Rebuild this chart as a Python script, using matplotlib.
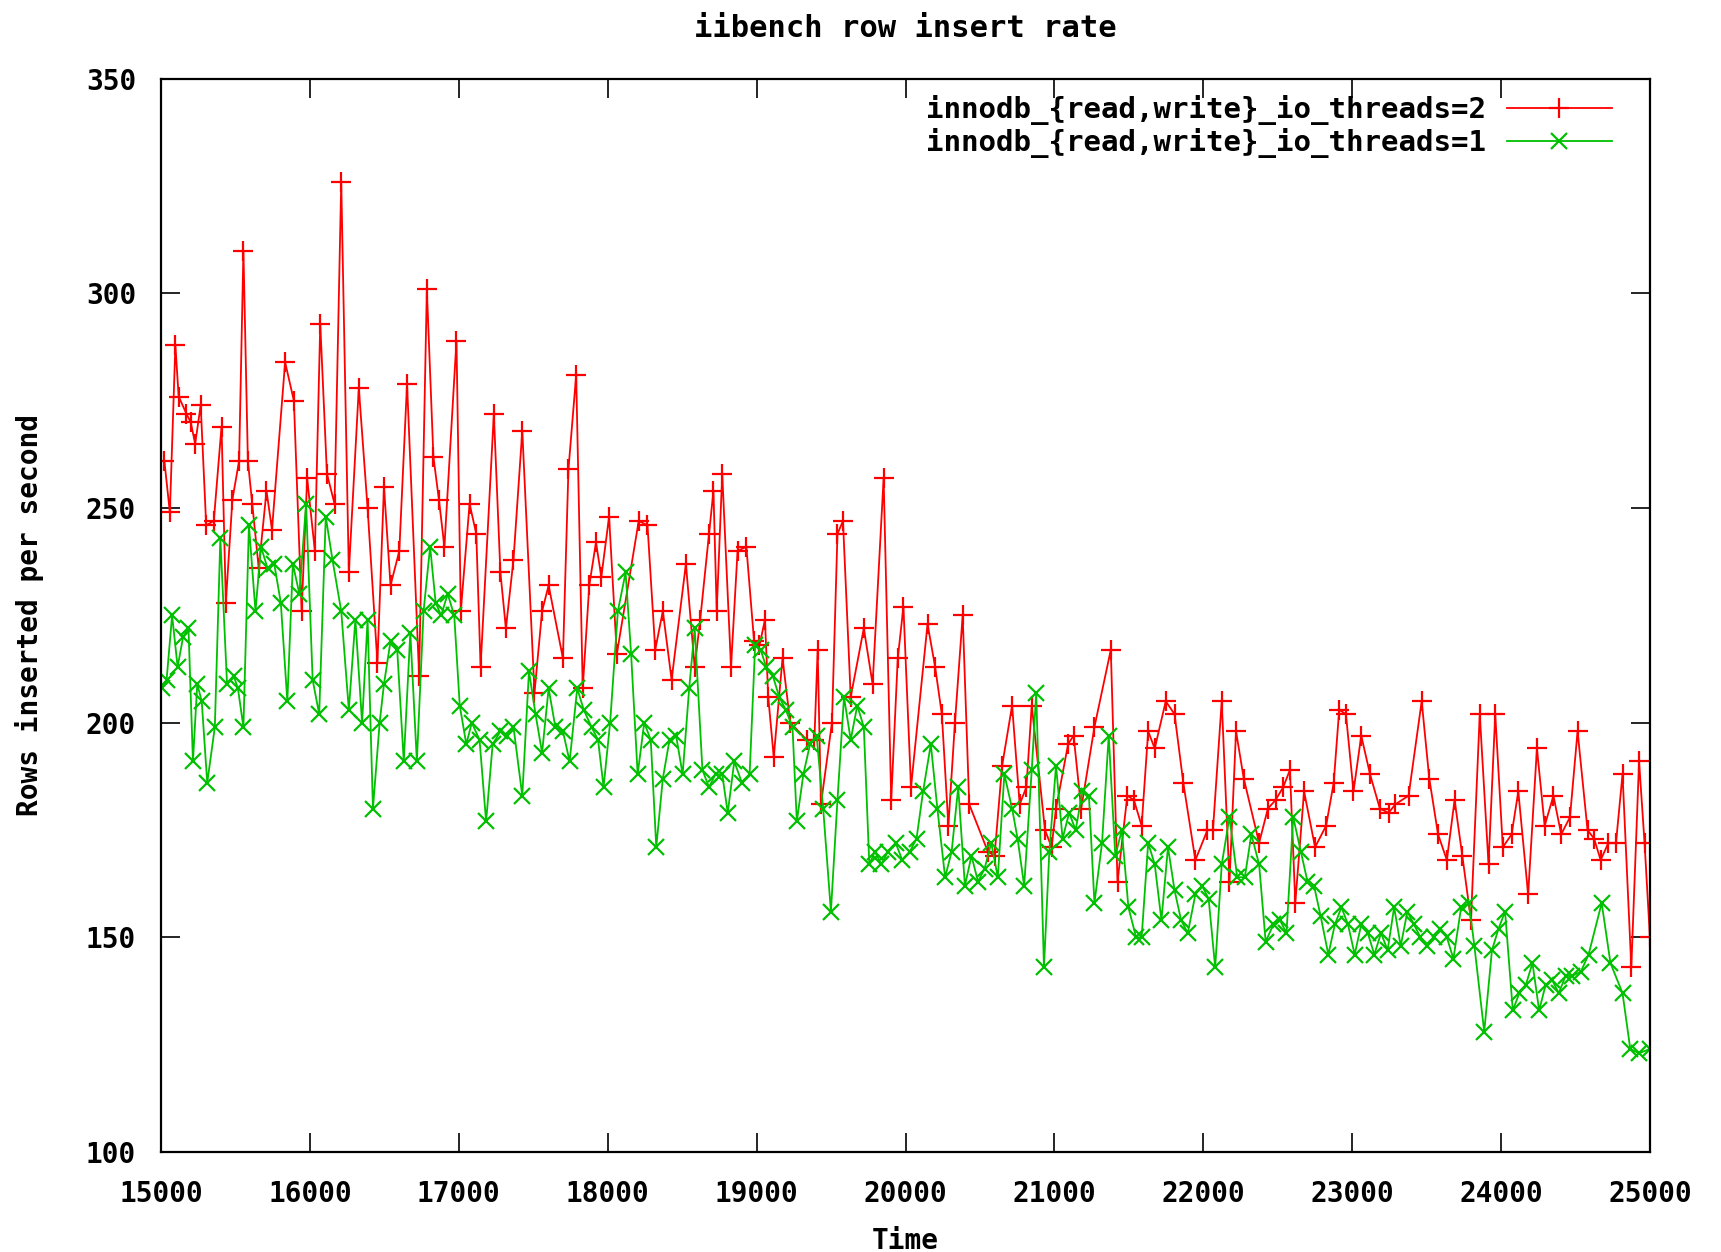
import matplotlib.pyplot as plt

# io_threads=2 run (red)
t_two = [15022, 15059, 15096, 15118, 15170, 15199, 15229, 15266, 15303, 15354,
         15406, 15435, 15479, 15524, 15553, 15583, 15612, 15656, 15708, 15745,
         15833, 15892, 15944, 15981, 16033, 16069, 16114, 16165, 16210, 16261,
         16328, 16387, 16453, 16497, 16541, 16600, 16652, 16733, 16785, 16829,
         16866, 16903, 16984, 17013, 17072, 17117, 17146, 17235, 17279, 17316,
         17367, 17426, 17508, 17559, 17603, 17699, 17736, 17788, 17832, 17876,
         17921, 17957, 18009, 18061, 18208, 18267, 18319, 18370, 18429, 18525,
         18584, 18621, 18680, 18710, 18732, 18769, 18828, 18872, 18931, 18983,
         19019, 19056, 19078, 19115, 19174, 19226, 19337, 19388, 19410, 19432,
         19506, 19543, 19580, 19632, 19720, 19779, 19853, 19904, 19948, 19986,
         20037, 20148, 20199, 20244, 20288, 20332, 20384, 20428, 20553, 20598,
         20649, 20716, 20767, 20812, 20848, 20937, 20981, 21011, 21092, 21129,
         21180, 21269, 21379, 21424, 21490, 21534, 21586, 21630, 21674, 21748,
         21807, 21866, 21947, 22028, 22065, 22124, 22176, 22220, 22272, 22375,
         22434, 22486, 22537, 22582, 22618, 22677, 22751, 22825, 22876, 22913,
         22958, 23009, 23061, 23120, 23186, 23245, 23290, 23379, 23467, 23518,
         23577, 23636, 23688, 23740, 23798, 23857, 23916, 23961, 24012, 24071,
         24116, 24182, 24241, 24293, 24352, 24404, 24463, 24514, 24581, 24625,
         24669, 24721, 24772, 24816, 24875, 24927, 24964, 25000]
rate_two = [261, 249, 288, 276, 272, 270, 265, 274, 246, 247,
            269, 228, 252, 261, 310, 261, 251, 236, 254, 245,
            284, 275, 226, 257, 240, 293, 258, 251, 326, 235,
            278, 250, 214, 255, 232, 240, 279, 211, 301, 262,
            252, 241, 289, 226, 251, 244, 213, 272, 235, 222,
            238, 268, 207, 226, 232, 215, 259, 281, 208, 232,
            242, 234, 248, 216, 247, 246, 217, 226, 210, 237,
            213, 224, 244, 254, 226, 258, 213, 240, 241, 219,
            218, 224, 206, 192, 215, 200, 196, 196, 217, 181,
            200, 244, 247, 206, 222, 209, 257, 182, 215, 227,
            185, 223, 213, 202, 176, 200, 225, 181, 170, 169,
            190, 204, 181, 185, 204, 175, 171, 180, 195, 197,
            180, 199, 217, 163, 183, 182, 176, 198, 194, 205,
            202, 186, 168, 175, 175, 205, 163, 198, 187, 172,
            180, 182, 185, 189, 158, 184, 171, 176, 186, 203,
            202, 184, 197, 188, 180, 179, 181, 183, 205, 187,
            174, 168, 182, 169, 154, 202, 167, 202, 171, 174,
            184, 160, 194, 176, 183, 174, 178, 198, 175, 173,
            168, 172, 172, 188, 143, 191, 172, 150]

# io_threads=1 run (green)
t_one = [15007, 15037, 15074, 15111, 15148, 15184, 15214, 15243, 15273, 15310,
         15361, 15398, 15443, 15487, 15516, 15553, 15590, 15634, 15671, 15715,
         15760, 15804, 15848, 15885, 15929, 15974, 16018, 16062, 16106, 16151,
         16210, 16261, 16305, 16350, 16387, 16423, 16468, 16497, 16541, 16586,
         16630, 16674, 16718, 16763, 16807, 16844, 16881, 16925, 16969, 17006,
         17050, 17087, 17139, 17183, 17227, 17279, 17323, 17367, 17426, 17471,
         17515, 17559, 17603, 17648, 17699, 17744, 17795, 17839, 17891, 17935,
         17972, 18016, 18068, 18120, 18157, 18201, 18245, 18289, 18326, 18370,
         18415, 18459, 18503, 18547, 18584, 18636, 18680, 18724, 18769, 18806,
         18850, 18901, 18953, 18990, 19027, 19064, 19108, 19152, 19196, 19241,
         19270, 19314, 19359, 19403, 19447, 19499, 19543, 19587, 19632, 19676,
         19720, 19757, 19794, 19838, 19882, 19934, 19978, 20030, 20074, 20118,
         20170, 20214, 20266, 20310, 20354, 20399, 20443, 20487, 20531, 20576,
         20620, 20664, 20716, 20753, 20797, 20848, 20878, 20930, 20966, 21011,
         21055, 21099, 21143, 21188, 21232, 21269, 21320, 21365, 21409, 21453,
         21497, 21549, 21586, 21630, 21674, 21719, 21763, 21807, 21851, 21896,
         21947, 21992, 22036, 22080, 22124, 22176, 22228, 22279, 22323, 22375,
         22419, 22471, 22515, 22559, 22604, 22655, 22700, 22744, 22788, 22840,
         22884, 22928, 22972, 23017, 23061, 23105, 23149, 23194, 23238, 23282,
         23326, 23371, 23415, 23459, 23503, 23548, 23592, 23636, 23680, 23732,
         23784, 23821, 23887, 23939, 23983, 24027, 24079, 24123, 24167, 24211,
         24256, 24300, 24344, 24388, 24433, 24477, 24536, 24588, 24676, 24735,
         24816, 24868, 24927, 25000]
rate_one = [208, 210, 225, 213, 220, 222, 191, 209, 205, 186,
            199, 243, 209, 211, 208, 199, 246, 226, 241, 236,
            237, 228, 205, 237, 230, 251, 210, 202, 248, 238,
            226, 203, 224, 200, 224, 180, 200, 209, 219, 217,
            191, 221, 191, 226, 241, 228, 225, 230, 225, 204,
            195, 200, 196, 177, 195, 198, 197, 199, 183, 212,
            202, 193, 208, 199, 198, 191, 208, 203, 199, 196,
            185, 200, 226, 235, 216, 188, 200, 196, 171, 187,
            196, 197, 188, 208, 222, 189, 185, 188, 188, 179,
            191, 186, 188, 218, 217, 213, 211, 206, 203, 199,
            177, 188, 195, 197, 180, 156, 182, 206, 196, 204,
            199, 167, 170, 167, 170, 172, 168, 170, 173, 184,
            195, 180, 164, 170, 185, 162, 169, 163, 166, 172,
            164, 188, 180, 173, 162, 189, 207, 143, 170, 190,
            173, 179, 175, 184, 183, 158, 172, 197, 169, 175,
            157, 150, 150, 172, 167, 154, 171, 161, 154, 151,
            160, 162, 159, 143, 167, 178, 164, 164, 174, 167,
            149, 153, 154, 151, 178, 170, 163, 162, 155, 146,
            153, 157, 153, 146, 153, 151, 146, 151, 147, 157,
            148, 156, 153, 150, 148, 150, 152, 150, 145, 157,
            158, 148, 128, 147, 152, 156, 133, 137, 139, 144,
            133, 139, 140, 137, 141, 141, 142, 146, 158, 144,
            137, 124, 123, 124]

xticks = [15000, 16000, 17000, 18000, 19000, 20000, 21000, 22000, 23000, 24000, 25000]
yticks = [100, 150, 200, 250, 300, 350]

plt.rcParams['font.family'] = 'DejaVu Sans Mono'
plt.rcParams['font.weight'] = 'bold'
plt.rcParams['axes.titleweight'] = 'bold'
plt.rcParams['axes.labelweight'] = 'bold'
plt.rcParams['font.size'] = 20

fig = plt.figure(figsize=(17.21, 12.52), dpi=100)
ax = fig.add_axes([0.0936, 0.0799, 0.8651, 0.8571])

ax.plot(t_two, rate_two, color='#ff0000', lw=1.3, marker='+', ms=14, mew=1.6,
        label='innodb_{read,write}_io_threads=2')
ax.plot(t_one, rate_one, color='#00c000', lw=1.3, marker='x', ms=11, mew=1.6,
        label='innodb_{read,write}_io_threads=1')

ax.set_xlim(15000, 25000)
ax.set_ylim(100, 350)
ax.set_xticks(xticks)
ax.set_yticks(yticks)
ax.tick_params(direction='in', length=14, width=1.2, top=True, right=True)
ax.tick_params(axis='x', pad=20)
ax.tick_params(axis='y', pad=18)
for s in ax.spines.values():
    s.set_linewidth(1.6)

ax.set_title('iibench row insert rate', pad=30, fontsize=22)
ax.set_xlabel('Time', labelpad=14)
ax.set_ylabel('Rows inserted per second', labelpad=30)

ax.legend(loc='upper right', bbox_to_anchor=(0.985, 1.0), frameon=False,
          markerfirst=False, handlelength=3.6, borderaxespad=0.15,
          labelspacing=0.1, handletextpad=0.7, fontsize=21)

fig.savefig('out.png', dpi=100)
